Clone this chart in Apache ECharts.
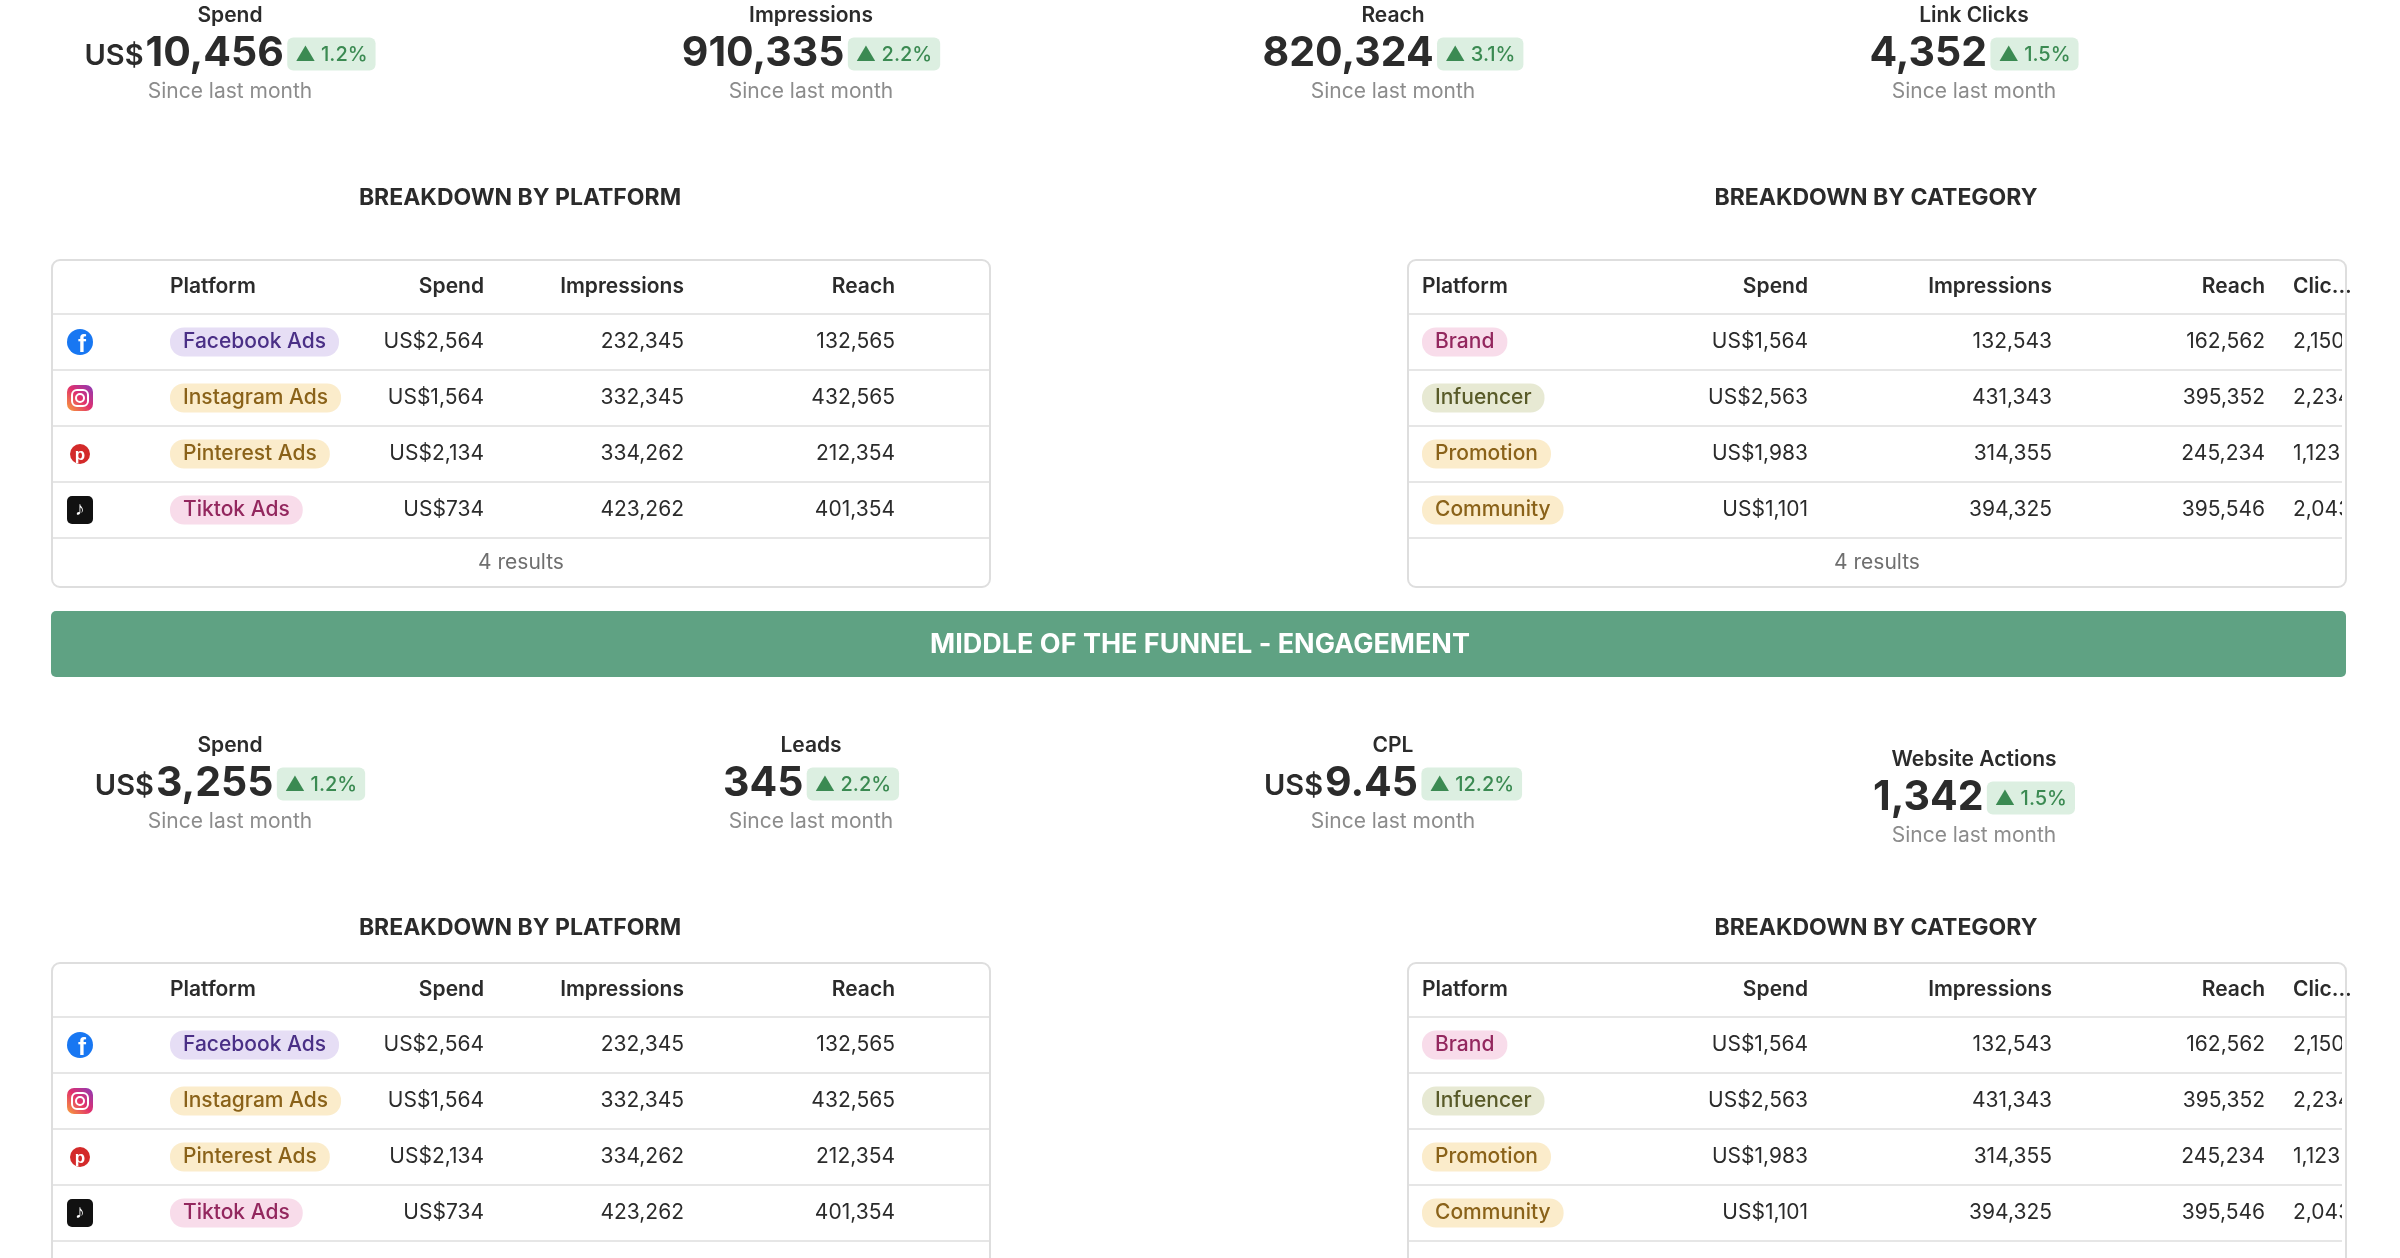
<!DOCTYPE html>
<html>
<head>
<meta charset="utf-8">
<script src="https://cdn.jsdelivr.net/npm/echarts@6/dist/echarts.min.js"></script>
<style>
  html, body { margin: 0; padding: 0; background: #fff; }
  #main { width: 2400px; height: 1258px; }
</style>
</head>
<body>
<div id="main"></div>
<script>
// ---- data ----
const topKpiLabels = ['Spend', 'Impressions', 'Reach', 'Link Clicks'];
const topKpiPrefix = ['US$', '', '', ''];
const topKpiValues = ['10,456', '910,335', '820,324', '4,352'];
const topKpiChange = ['1.2%', '2.2%', '3.1%', '1.5%'];

const midKpiLabels = ['Spend', 'Leads', 'CPL', 'Website Actions'];
const midKpiPrefix = ['US$', '', 'US$', ''];
const midKpiValues = ['3,255', '345', '9.45', '1,342'];
const midKpiChange = ['1.2%', '2.2%', '12.2%', '1.5%'];

const platforms = ['Facebook Ads', 'Instagram Ads', 'Pinterest Ads', 'Tiktok Ads'];
const platformIcons = ['facebook', 'instagram', 'pinterest', 'tiktok'];
const platformSpend = ['US$2,564', 'US$1,564', 'US$2,134', 'US$734'];
const platformImpressions = ['232,345', '332,345', '334,262', '423,262'];
const platformReach = ['132,565', '432,565', '212,354', '401,354'];

const categories = ['Brand', 'Infuencer', 'Promotion', 'Community'];
const categorySpend = ['US$1,564', 'US$2,563', 'US$1,983', 'US$1,101'];
const categoryImpressions = ['132,543', '431,343', '314,355', '394,325'];
const categoryReach = ['162,562', '395,352', '245,234', '395,546'];
const categoryClicks = ['2,150', '2,234', '1,123', '2,043'];

const bannerText = 'MIDDLE OF THE FUNNEL - ENGAGEMENT';

// ---- styles ----
const FONT = 'Inter, "Noto Sans", sans-serif';
const INK = '#2b2b2b';
const GREY = '#8c8c8c';
const LINE = '#e6e6e6';
const FS = 21;
const pillColors = {
  'Facebook Ads': ['#e6def5', '#4a2f86'],
  'Instagram Ads': ['#fbeccb', '#8a6219'],
  'Pinterest Ads': ['#fbeccb', '#8a6219'],
  'Tiktok Ads': ['#f8dcea', '#93275e'],
  'Brand': ['#f8dcea', '#93275e'],
  'Infuencer': ['#e7e9d3', '#585a28'],
  'Promotion': ['#fbeccb', '#8a6219'],
  'Community': ['#fbeccb', '#8a6219']
};

const els = [];
const kpiX = [230, 811, 1393, 1974];

function txt(x, y, text, opt) {
  els.push({
    type: 'text', x: x, y: y, z: opt.z || 10,
    style: Object.assign({
      text: text, fontFamily: FONT, fill: INK, fontSize: FS,
      align: 'left', verticalAlign: 'middle'
    }, opt)
  });
}

function kpiRow(labels, prefix, values, change, yBase, offsets) {
  labels.forEach((lab, i) => {
    const dy = offsets ? offsets[i] : 0;
    txt(kpiX[i], yBase + dy, lab, { fontSize: 21, fontWeight: 600, align: 'center' });
    els.push({
      type: 'text', x: kpiX[i], y: yBase + 38 + dy, z: 10,
      style: {
        text: (prefix[i] ? '{cur|' + prefix[i] + '}' : '') + '{num|' + values[i] + '} {badge|▲ ' + change[i] + '}',
        align: 'center', verticalAlign: 'middle', fontFamily: FONT,
        rich: {
          cur: { fontFamily: FONT, fontSize: 29, fontWeight: 600, fill: INK, padding: [4, 2, 0, 0] },
          num: { fontFamily: FONT, fontSize: 41, fontWeight: 700, fill: INK },
          badge: {
            fontFamily: FONT, fontSize: 20, fontWeight: 500, fill: '#3b8a52',
            backgroundColor: '#dcefe1', borderRadius: 6, padding: [7, 8, 6, 8]
          }
        }
      }
    });
    txt(kpiX[i], yBase + 76 + dy, 'Since last month', { fontSize: 21, fill: GREY, align: 'center' });
  });
}

function icon(kind, cx, cy) {
  if (kind === 'facebook') {
    els.push({ type: 'circle', z: 10, shape: { cx: cx, cy: cy, r: 13 }, style: { fill: '#1877f2' } });
    txt(cx + 2, cy + 3, 'f', { fontSize: 24, fontWeight: 700, fill: '#fff', align: 'center', fontFamily: 'Arial', z: 11 });
  } else if (kind === 'instagram') {
    els.push({
      type: 'rect', z: 10, shape: { x: cx - 13, y: cy - 13, width: 26, height: 26, r: 7 },
      style: { fill: new echarts.graphic.LinearGradient(0, 1, 1, 0, [
        { offset: 0, color: '#f9a23a' }, { offset: 0.5, color: '#e1306c' }, { offset: 1, color: '#8a3ab9' }]) }
    });
    els.push({ type: 'rect', z: 11, shape: { x: cx - 8, y: cy - 8, width: 16, height: 16, r: 5 }, style: { fill: 'none', stroke: '#fff', lineWidth: 2 } });
    els.push({ type: 'circle', z: 11, shape: { cx: cx, cy: cy, r: 4 }, style: { fill: 'none', stroke: '#fff', lineWidth: 2 } });
  } else if (kind === 'pinterest') {
    els.push({ type: 'circle', z: 10, shape: { cx: cx, cy: cy, r: 10 }, style: { fill: '#d32a2a' } });
    txt(cx, cy + 1, 'p', { fontSize: 17, fontWeight: 700, fill: '#fff', align: 'center', fontFamily: 'Arial', z: 11 });
  } else {
    els.push({ type: 'rect', z: 10, shape: { x: cx - 13, y: cy - 14, width: 26, height: 28, r: 5 }, style: { fill: '#111' } });
    txt(cx, cy - 1, '♪', { fontSize: 19, fontWeight: 700, fill: '#fff', align: 'center', z: 11 });
  }
}

function pill(x, y, label) {
  const c = pillColors[label];
  els.push({
    type: 'text', x: x, y: y, z: 10,
    style: {
      text: label, fontFamily: FONT, fontSize: FS, fontWeight: 500, fill: c[1],
      backgroundColor: c[0], borderRadius: 14, padding: [4, 13, 4, 13],
      verticalAlign: 'middle'
    }
  });
}

function frame(x, y, w, h) {
  els.push({ type: 'rect', z: 20, shape: { x: x, y: y, width: w, height: h, r: 8 }, style: { fill: 'none', stroke: '#dedede', lineWidth: 2 } });
}

function platformTable(top, footer) {
  const x0 = 52, w = 938, headH = 54, rowH = 56;
  const hy = top + 27;
  txt(170, hy, 'Platform', { fontWeight: 600 });
  txt(484, hy, 'Spend', { fontWeight: 600, align: 'right' });
  txt(684, hy, 'Impressions', { fontWeight: 600, align: 'right' });
  txt(895, hy, 'Reach', { fontWeight: 600, align: 'right' });
  platforms.forEach((p, i) => {
    const ly = top + headH + i * rowH;
    els.push({ type: 'line', z: 5, shape: { x1: x0, y1: ly, x2: x0 + w, y2: ly }, style: { stroke: LINE, lineWidth: 2 } });
    const cy = ly + rowH / 2;
    icon(platformIcons[i], 80, cy);
    pill(170, cy, p);
    txt(484, cy, platformSpend[i], { align: 'right' });
    txt(684, cy, platformImpressions[i], { align: 'right' });
    txt(895, cy, platformReach[i], { align: 'right' });
  });
  const endY = top + headH + platforms.length * rowH;
  els.push({ type: 'line', z: 5, shape: { x1: x0, y1: endY, x2: x0 + w, y2: endY }, style: { stroke: LINE, lineWidth: 2 } });
  if (footer) {
    txt(x0 + w / 2, endY + 25, platforms.length + ' results', { fill: '#6f6f6f', align: 'center' });
    frame(x0, top, w, endY + 49 - top);
  } else {
    frame(x0, top, w, 1300 - top);
  }
}

function categoryTable(top, footer) {
  const x0 = 1408, w = 938, headH = 54, rowH = 56;
  const hy = top + 27;
  txt(1422, hy, 'Platform', { fontWeight: 600 });
  txt(1808, hy, 'Spend', { fontWeight: 600, align: 'right' });
  txt(2052, hy, 'Impressions', { fontWeight: 600, align: 'right' });
  txt(2265, hy, 'Reach', { fontWeight: 600, align: 'right' });
  txt(2293, hy, 'Clic...', { fontWeight: 600 });
  categories.forEach((c, i) => {
    const ly = top + headH + i * rowH;
    els.push({ type: 'line', z: 5, shape: { x1: x0, y1: ly, x2: x0 + w, y2: ly }, style: { stroke: LINE, lineWidth: 2 } });
    const cy = ly + rowH / 2;
    pill(1422, cy, c);
    txt(1808, cy, categorySpend[i], { align: 'right' });
    txt(2052, cy, categoryImpressions[i], { align: 'right' });
    txt(2265, cy, categoryReach[i], { align: 'right' });
    txt(2293, cy, categoryClicks[i], {});
  });
  const endY = top + headH + categories.length * rowH;
  els.push({ type: 'line', z: 5, shape: { x1: x0, y1: endY, x2: x0 + w, y2: endY }, style: { stroke: LINE, lineWidth: 2 } });
  // hide overflow of the clipped last column
  els.push({ type: 'rect', z: 15, shape: { x: x0 + w - 4, y: top + 56, width: 70, height: 240 }, style: { fill: '#fff' } });
  if (footer) {
    txt(x0 + w / 2, endY + 25, categories.length + ' results', { fill: '#6f6f6f', align: 'center' });
    frame(x0, top, w, endY + 49 - top);
  } else {
    frame(x0, top, w, 1300 - top);
  }
}

// ---- top of funnel ----
kpiRow(topKpiLabels, topKpiPrefix, topKpiValues, topKpiChange, 16);
txt(520, 198, 'BREAKDOWN BY PLATFORM', { fontSize: 23, fontWeight: 700, align: 'center' });
txt(1876, 198, 'BREAKDOWN BY CATEGORY', { fontSize: 23, fontWeight: 700, align: 'center' });
platformTable(260, true);
categoryTable(260, true);

// ---- banner ----
els.push({ type: 'rect', z: 5, shape: { x: 51, y: 611, width: 2295, height: 66, r: 5 }, style: { fill: '#5fa283' } });
txt(1200, 645, bannerText, { fontSize: 27, fontWeight: 700, fill: '#fff', align: 'center' });

// ---- middle of funnel ----
kpiRow(midKpiLabels, midKpiPrefix, midKpiValues, midKpiChange, 746, [0, 0, 0, 14]);
txt(520, 928, 'BREAKDOWN BY PLATFORM', { fontSize: 23, fontWeight: 700, align: 'center' });
txt(1876, 928, 'BREAKDOWN BY CATEGORY', { fontSize: 23, fontWeight: 700, align: 'center' });
platformTable(963, false);
categoryTable(963, false);

const chart = echarts.init(document.getElementById('main'));
chart.setOption({ backgroundColor: '#fff', animation: false, graphic: { elements: els } });
</script>
</body>
</html>
